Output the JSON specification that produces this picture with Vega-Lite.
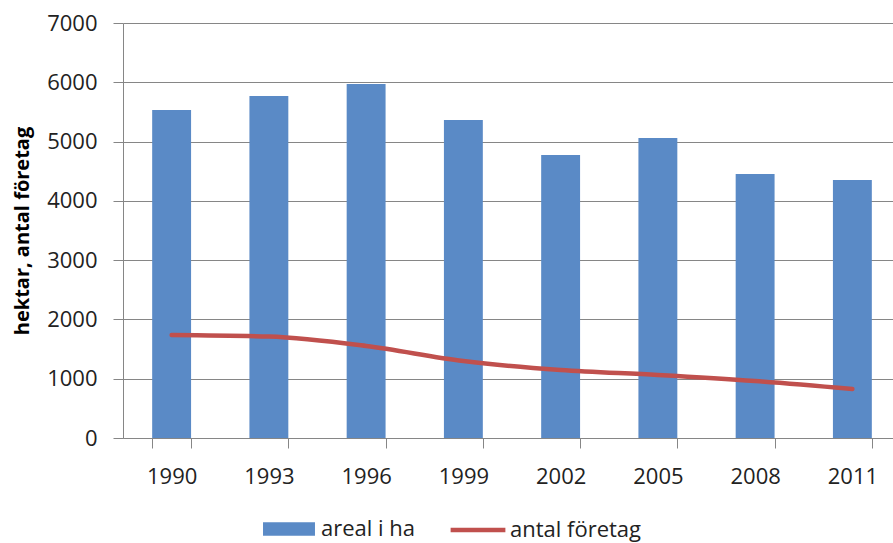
{
  "$schema": "https://vega.github.io/schema/vega-lite/v6.json",
  "autosize": "none",
  "width": 770,
  "height": 415,
  "padding": {"left": 123, "top": 23, "right": 0, "bottom": 105},
  "background": "white",
  "data": {
    "values": [
      {"year": "1990", "areal": 5533, "antal": 1737},
      {"year": "1993", "areal": 5769, "antal": 1710},
      {"year": "1996", "areal": 5971, "antal": 1552},
      {"year": "1999", "areal": 5364, "antal": 1299},
      {"year": "2002", "areal": 4773, "antal": 1147},
      {"year": "2005", "areal": 5060, "antal": 1063},
      {"year": "2008", "areal": 4453, "antal": 961},
      {"year": "2011", "areal": 4352, "antal": 826}
    ]
  },
  "encoding": {
    "x": {
      "field": "year",
      "type": "ordinal",
      "scale": {"paddingInner": 0.6, "paddingOuter": 0.3, "range": [0, 778]},
      "axis": {
        "title": null,
        "labelAngle": 0,
        "tickBand": "extent",
        "tickSize": 10,
        "tickColor": "#868686",
        "domainColor": "#868686",
        "labelPadding": 18,
        "labelFontSize": 22,
        "labelFont": "Open Sans",
        "labelColor": "#222222",
        "grid": false
      }
    }
  },
  "layer": [
    {
      "mark": {"type": "bar"},
      "encoding": {
        "y": {
          "field": "areal",
          "type": "quantitative",
          "scale": {"domain": [0, 7000], "nice": false},
          "axis": {
            "title": "hektar, antal företag",
            "titleFont": "Open Sans",
            "titleFontSize": 20,
            "titleFontWeight": "bold",
            "titleColor": "#000000",
            "titlePadding": 14,
            "format": "d",
            "values": [0, 1000, 2000, 3000, 4000, 5000, 6000, 7000],
            "tickSize": 10,
            "tickColor": "#868686",
            "domainColor": "#868686",
            "gridColor": "#868686",
            "labelPadding": 16,
            "labelFontSize": 22,
            "labelFont": "Open Sans",
            "labelColor": "#222222"
          }
        },
        "fill": {
          "datum": "areal i ha",
          "type": "nominal",
          "scale": {"range": ["#5A8AC6"]},
          "legend": {
            "orient": "none",
            "legendX": 140,
            "legendY": 480,
            "title": null,
            "symbolType": "M-1,-0.26H1V0.26H-1Z",
            "symbolSize": 2700,
            "symbolStrokeWidth": 0,
            "symbolOpacity": 1,
            "labelFontSize": 22,
            "labelFont": "Open Sans",
            "labelColor": "#222222",
            "labelOffset": 6
          }
        }
      }
    },
    {
      "mark": {"type": "line", "interpolate": "monotone", "strokeWidth": 4.5, "strokeCap": "round"},
      "encoding": {
        "y": {"field": "antal", "type": "quantitative"},
        "stroke": {
          "datum": "antal företag",
          "type": "nominal",
          "scale": {"range": ["#C0504D"]},
          "legend": {
            "orient": "none",
            "legendX": 325,
            "legendY": 477,
            "title": null,
            "symbolType": "stroke",
            "symbolSize": 3000,
            "symbolStrokeWidth": 4.5,
            "symbolStrokeColor": "#C0504D",
            "labelFontSize": 22,
            "labelFont": "Open Sans",
            "labelColor": "#222222",
            "labelOffset": 2
          }
        }
      }
    }
  ],
  "config": {
    "view": {"stroke": null},
    "axis": {"gridWidth": 1, "domainWidth": 1, "tickWidth": 1}
  }
}
